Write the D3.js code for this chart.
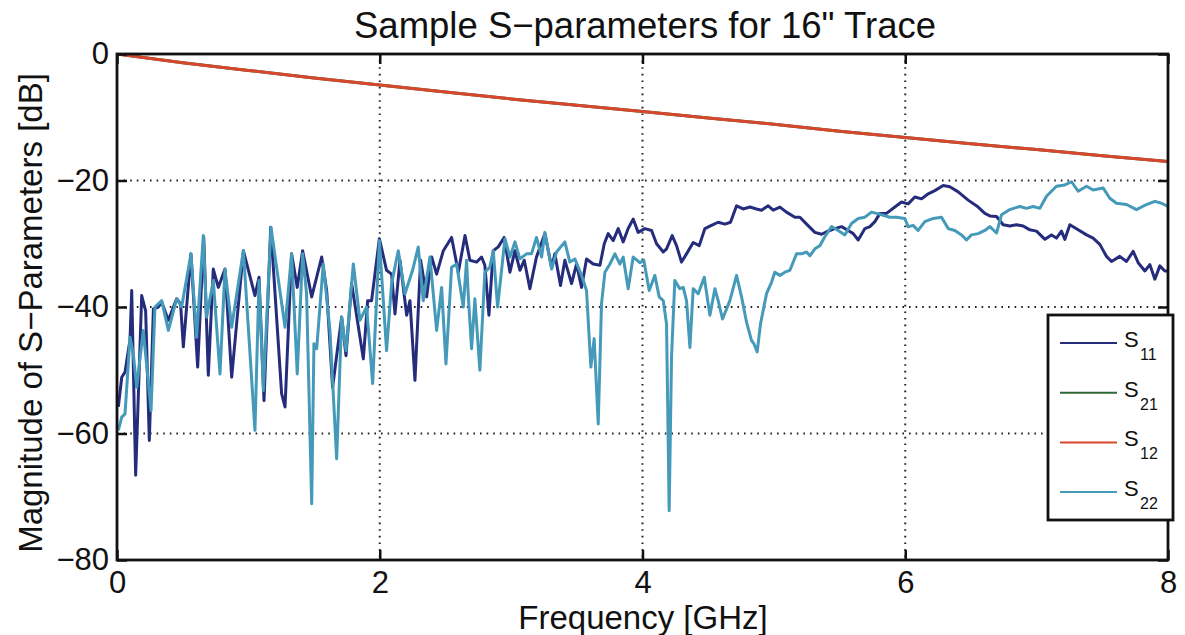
<!DOCTYPE html>
<html>
<head>
<meta charset="utf-8">
<script src="https://cdn.jsdelivr.net/npm/d3@7"></script>
<style>
  body { margin: 0; background: #fff; }
  text { font-family: "Liberation Sans", Arial, sans-serif; fill: #111; }
</style>
</head>
<body>
<div class="s-plot"></div>
<script>
// values (GHz, dB)
const xTicks = [0, 2, 4, 6, 8];
const yTicks = [-80, -60, -40, -20, 0];

const seriesNames = ["11", "21", "12", "22"];
const seriesColors = ["#262c7c", "#2e6a35", "#d8462c", "#4599b9"];

const s11Freq = [0.010,0.036,0.061,0.086,0.099,0.112,0.142,0.188,0.218,0.246,0.277,0.315,0.340,0.391,0.454,0.484,0.505,0.563,0.614,0.660,
  0.695,0.733,0.771,0.822,0.873,0.962,1.050,1.081,1.119,1.170,1.253,1.279,1.329,1.372,1.413,1.482,1.558,1.596,1.641,1.667,
  1.710,1.743,1.786,1.875,1.908,1.938,1.997,2.052,2.090,2.116,2.154,2.205,2.230,2.268,2.311,2.357,2.395,2.433,2.484,2.547,
  2.598,2.649,2.686,2.737,2.775,2.800,2.831,2.864,2.902,2.947,2.991,3.029,3.067,3.100,3.143,3.193,3.257,3.308,3.333,3.376,
  3.409,3.460,3.498,3.536,3.574,3.625,3.676,3.709,3.739,3.777,3.815,3.853,3.891,3.929,3.967,4.018,4.069,4.107,4.158,4.183,
  4.226,4.259,4.297,4.335,4.386,4.432,4.475,4.525,4.576,4.627,4.670,4.716,4.766,4.817,4.868,4.906,4.957,4.995,5.046,5.096,
  5.160,5.198,5.249,5.312,5.363,5.401,5.464,5.515,5.566,5.604,5.642,5.693,5.731,5.769,5.807,5.857,5.921,5.972,6.022,6.073,
  6.124,6.175,6.225,6.289,6.339,6.403,6.479,6.555,6.606,6.644,6.695,6.745,6.796,6.847,6.898,6.948,6.999,7.063,7.113,7.151,
  7.189,7.215,7.253,7.316,7.380,7.430,7.481,7.532,7.570,7.633,7.684,7.735,7.773,7.824,7.862,7.900,7.938,7.976,8.000];
const s11Db = [-55.8,-51.1,-50.3,-46.9,-45.3,-37.4,-66.6,-38.2,-40.6,-61.1,-40.3,-40.0,-39.2,-42.1,-38.7,-39.5,-46.3,-31.6,-49.5,-28.9,
  -50.8,-34.0,-36.9,-34.0,-51.1,-31.1,-38.2,-35.3,-54.8,-27.4,-53.7,-55.8,-31.6,-36.9,-31.1,-38.4,-32.1,-37.4,-52.7,-48.5,
  -41.6,-47.7,-36.3,-48.2,-39.0,-39.0,-29.2,-34.2,-34.8,-41.1,-32.6,-41.3,-39.0,-51.6,-32.6,-38.4,-32.1,-34.8,-31.1,-29.0,
  -34.5,-28.7,-32.6,-32.9,-32.1,-33.4,-41.3,-31.1,-30.5,-29.0,-34.5,-31.1,-34.2,-32.6,-37.1,-32.1,-28.4,-33.7,-31.6,-36.6,
  -32.6,-36.3,-33.2,-36.9,-32.4,-33.2,-33.4,-30.0,-28.4,-29.5,-27.6,-29.7,-27.6,-26.1,-28.2,-27.6,-27.9,-30.0,-31.3,-30.8,
  -28.7,-30.3,-32.9,-31.6,-29.8,-30.3,-27.6,-27.1,-26.6,-26.9,-26.6,-24.0,-24.5,-24.2,-24.5,-24.7,-24.0,-24.7,-24.2,-25.0,
  -25.8,-25.8,-26.9,-28.2,-28.5,-28.1,-27.6,-27.3,-27.9,-28.4,-29.4,-27.6,-27.3,-26.5,-25.2,-25.2,-24.2,-23.4,-23.7,-22.6,
  -22.9,-22.1,-21.6,-20.8,-21.0,-21.8,-23.1,-24.2,-25.2,-25.6,-25.7,-27.0,-27.2,-27.0,-27.2,-27.8,-28.0,-29.3,-28.6,-29.1,
  -28.0,-29.3,-27.0,-27.8,-28.6,-29.1,-30.1,-32.0,-32.8,-32.0,-32.8,-31.2,-33.0,-34.3,-33.3,-35.6,-33.5,-34.3,-34.3];

const s22Freq = [0.010,0.036,0.061,0.099,0.124,0.150,0.200,0.259,0.289,0.340,0.391,0.454,0.492,0.563,0.606,0.657,0.682,0.733,0.784,0.822,
  0.873,0.962,1.050,1.081,1.114,1.172,1.279,1.329,1.372,1.413,1.443,1.482,1.499,1.520,1.570,1.621,1.672,1.710,1.743,1.799,
  1.849,1.900,1.946,1.997,2.052,2.090,2.141,2.192,2.250,2.293,2.331,2.382,2.433,2.471,2.504,2.547,2.585,2.636,2.661,2.673,
  2.699,2.724,2.762,2.800,2.838,2.864,2.897,2.953,2.991,3.029,3.067,3.117,3.155,3.193,3.232,3.257,3.308,3.346,3.409,3.447,
  3.485,3.536,3.574,3.607,3.632,3.663,3.688,3.714,3.752,3.790,3.828,3.853,3.891,3.929,3.980,4.010,4.051,4.094,4.127,4.158,
  4.183,4.203,4.221,4.246,4.284,4.310,4.335,4.361,4.386,4.424,4.470,4.513,4.551,4.576,4.609,4.665,4.716,4.754,4.792,4.830,
  4.848,4.873,4.898,4.944,4.982,5.007,5.046,5.084,5.122,5.172,5.210,5.249,5.274,5.312,5.350,5.388,5.439,5.490,5.540,5.591,
  5.642,5.693,5.743,5.781,5.832,5.883,5.934,5.997,6.022,6.060,6.098,6.149,6.213,6.276,6.327,6.378,6.428,6.466,6.504,6.555,
  6.606,6.644,6.695,6.733,6.796,6.872,6.923,6.974,7.025,7.075,7.151,7.215,7.266,7.316,7.380,7.430,7.507,7.557,7.608,7.684,
  7.760,7.836,7.900,7.951,8.000];
const s22Db = [-59.5,-57.4,-56.9,-44.8,-47.4,-52.7,-43.7,-56.4,-40.0,-39.0,-43.7,-38.7,-40.0,-31.6,-44.8,-28.7,-41.6,-35.8,-50.6,-34.0,
  -43.2,-31.1,-59.5,-35.8,-53.2,-27.4,-43.2,-31.6,-50.6,-31.6,-37.9,-71.1,-45.8,-46.6,-33.2,-43.7,-64.0,-41.6,-46.9,-33.2,
  -42.1,-40.0,-52.1,-29.5,-46.9,-36.3,-31.1,-37.9,-34.2,-30.5,-39.0,-32.1,-43.7,-36.9,-49.0,-33.7,-33.2,-40.0,-32.6,-37.9,
  -46.6,-38.7,-50.0,-34.5,-33.7,-31.1,-40.0,-29.2,-32.1,-29.7,-32.4,-31.6,-31.6,-29.0,-32.1,-28.2,-34.0,-31.3,-29.7,-32.9,
  -32.4,-35.0,-37.4,-49.5,-45.0,-58.5,-39.5,-34.5,-33.2,-31.6,-33.2,-32.1,-37.1,-32.1,-33.0,-32.6,-37.4,-35.0,-38.4,-39.0,
  -42.7,-72.2,-47.9,-35.8,-37.1,-36.9,-39.0,-46.4,-37.1,-37.9,-35.3,-41.3,-37.1,-39.0,-41.9,-39.0,-35.0,-38.4,-42.4,-45.3,
  -45.8,-47.1,-42.7,-37.9,-36.1,-34.5,-35.0,-34.5,-34.2,-31.6,-31.6,-31.3,-31.9,-30.8,-30.3,-28.9,-27.3,-27.9,-28.6,-26.8,
  -26.0,-25.8,-25.0,-25.2,-25.5,-25.8,-25.8,-26.0,-27.3,-27.1,-27.9,-26.5,-26.0,-25.8,-27.6,-27.9,-28.6,-29.4,-28.6,-28.4,
  -27.9,-27.3,-28.3,-25.4,-24.6,-24.1,-24.4,-24.1,-24.4,-22.5,-20.9,-20.7,-20.2,-21.7,-20.9,-21.5,-21.2,-22.8,-23.6,-23.8,
  -24.6,-23.8,-23.3,-23.6,-24.1];

// transmission (S21 lies under S12)
const s12Freq = [0,0.5,1,1.5,2,2.5,3,3.5,4,4.5,5,5.5,6,6.5,7,7.5,8];
const s12Db = [0,-1.4,-2.6,-3.8,-4.9,-6.0,-7.1,-8.1,-9.1,-10.1,-11.1,-12.2,-13.2,-14.2,-15.1,-16.1,-17.0];
const s21Db = [0,-1.4,-2.6,-3.8,-4.9,-6.0,-7.1,-8.1,-9.1,-10.1,-11.1,-12.2,-13.2,-14.2,-15.1,-16.1,-17.0];

const width = 1185;
const height = 635;
const plotLeft = 117, plotRight = 1168, plotTop = 54, plotBottom = 560;

const svg = d3.select('.s-plot')
  .append('svg')
  .attr('width', width)
  .attr('height', height);

const x = d3.scaleLinear().domain([0, 8]).range([plotLeft, plotRight]);
const y = d3.scaleLinear().domain([-80, 0]).range([plotBottom, plotTop]);

// dotted grid
svg.append('g').selectAll('line')
  .data(xTicks.filter(d => d > 0 && d < 8))
  .enter().append('line')
  .attr('x1', d => x(d)).attr('x2', d => x(d))
  .attr('y1', plotTop).attr('y2', plotBottom)
  .attr('stroke', '#222').attr('stroke-width', 2)
  .attr('stroke-dasharray', '1.6,5');
svg.append('g').selectAll('line')
  .data(yTicks.filter(d => d > -80 && d < 0))
  .enter().append('line')
  .attr('x1', plotLeft).attr('x2', plotRight)
  .attr('y1', d => y(d)).attr('y2', d => y(d))
  .attr('stroke', '#222').attr('stroke-width', 2)
  .attr('stroke-dasharray', '1.6,5');

svg.append('clipPath').attr('id', 'clip')
  .append('rect').attr('x', plotLeft).attr('y', plotTop)
  .attr('width', plotRight - plotLeft).attr('height', plotBottom - plotTop);

const line = d3.line().x(d => x(d[0])).y(d => y(d[1]));
const traces = [
  d3.zip(s11Freq, s11Db),
  d3.zip(s12Freq, s21Db),
  d3.zip(s12Freq, s12Db),
  d3.zip(s22Freq, s22Db)
];

svg.append('g').attr('clip-path', 'url(#clip)')
  .selectAll('path')
  .data(traces)
  .enter().append('path')
  .attr('d', line)
  .attr('fill', 'none')
  .attr('stroke', (d, i) => seriesColors[i])
  .attr('stroke-width', 3)
  .attr('stroke-linejoin', 'round');

// axes: box with inward ticks on every side
const minus = v => v < 0 ? '\u2212' + Math.abs(v) : String(v);
svg.append('g').attr('transform', `translate(0,${plotBottom})`)
  .call(d3.axisBottom(x).tickValues(xTicks).tickSize(-10).tickPadding(11).tickFormat(minus))
  .call(g => g.select('.domain').remove());
svg.append('g').attr('transform', `translate(0,${plotTop})`)
  .call(d3.axisTop(x).tickValues(xTicks).tickSize(-10).tickFormat(''))
  .call(g => g.select('.domain').remove());
svg.append('g').attr('transform', `translate(${plotLeft},0)`)
  .call(d3.axisLeft(y).tickValues(yTicks).tickSize(-10).tickPadding(8).tickFormat(minus))
  .call(g => g.select('.domain').remove());
svg.append('g').attr('transform', `translate(${plotRight},0)`)
  .call(d3.axisRight(y).tickValues(yTicks).tickSize(-10).tickFormat(''))
  .call(g => g.select('.domain').remove());

svg.selectAll('.tick line').attr('stroke', '#111').attr('stroke-width', 2.5);
svg.selectAll('.tick text').attr('font-size', 31).attr('fill', '#111')
  .attr('font-family', '"Liberation Sans", Arial, sans-serif');

svg.append('rect')
  .attr('x', plotLeft).attr('y', plotTop)
  .attr('width', plotRight - plotLeft).attr('height', plotBottom - plotTop)
  .attr('fill', 'none').attr('stroke', '#111').attr('stroke-width', 2.8);

// titles
svg.append('text')
  .attr('x', 645).attr('y', 38)
  .attr('text-anchor', 'middle').attr('font-size', 36.5)
  .text('Sample S\u2212parameters for 16" Trace');
svg.append('text')
  .attr('x', 643).attr('y', 629)
  .attr('text-anchor', 'middle').attr('font-size', 33)
  .text('Frequency [GHz]');
svg.append('text')
  .attr('transform', `translate(42,313) rotate(-90)`)
  .attr('text-anchor', 'middle').attr('font-size', 33)
  .text('Magnitude of S\u2212Parameters [dB]');

// legend
const lg = svg.append('g');
lg.append('rect')
  .attr('x', 1048).attr('y', 315).attr('width', 125).attr('height', 205)
  .attr('fill', '#fff').attr('stroke', '#111').attr('stroke-width', 2.8);
const items = lg.selectAll('g.item')
  .data(seriesNames)
  .enter().append('g')
  .attr('transform', (d, i) => `translate(0,${343 + i * 49.7})`);
items.append('line')
  .attr('x1', 1060).attr('x2', 1117)
  .attr('stroke', (d, i) => seriesColors[i]).attr('stroke-width', 2);
items.append('text')
  .attr('x', 1124).attr('y', 4).attr('font-size', 22).text('S');
items.append('text')
  .attr('x', 1140).attr('y', 17).attr('font-size', 16).text(d => d);
</script>
</body>
</html>
